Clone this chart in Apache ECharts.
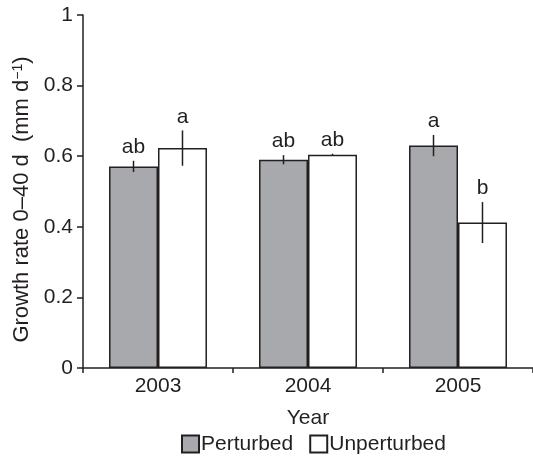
<!DOCTYPE html>
<html>
<head>
<meta charset="utf-8">
<script src="https://cdn.jsdelivr.net/npm/echarts@6/dist/echarts.min.js"></script>
<style>html,body{margin:0;padding:0;background:#fff;}#c{width:533px;height:456px;}</style>
</head>
<body>
<div id="c"></div>
<script>
const years = ['2003', '2004', '2005'];
const perturbed = [0.571, 0.590, 0.630];
const perturbedErr = [0.016, 0.013, 0.030];
const perturbedLetters = ['ab', 'ab', 'a'];
const unperturbed = [0.623, 0.604, 0.412];
const unperturbedErr = [0.050, 0.003, 0.058];
const unperturbedLetters = ['a', 'ab', 'b'];
const seriesNames = ['Perturbed', 'Unperturbed'];

const FONT = '"Liberation Sans", Arial, sans-serif';
const INK = '#231f20';
const GAP = 0.347;

function errSeries(values, errs, letters, side) {
  return {
    type: 'custom',
    z: 10,
    silent: true,
    data: values.map((v, i) => [i, v, errs[i]]),
    encode: { x: 0, y: 1 },
    renderItem: function (params, api) {
      const i = api.value(0), v = api.value(1), e = api.value(2);
      const band = api.size([1, 0])[0];
      const off = side * band * (1 - GAP) / 4;
      const top = api.coord([i, v + e]);
      const bot = api.coord([i, v - e]);
      const x = top[0] + off;
      return {
        type: 'group',
        children: [
          { type: 'line', shape: { x1: x, y1: top[1], x2: x, y2: bot[1] },
            style: { stroke: INK, lineWidth: 1.5 } },
          { type: 'text', x: x, y: top[1] - 3,
            style: { text: letters[params.dataIndex], align: 'center', verticalAlign: 'bottom',
                     fill: INK, font: '21px ' + FONT } }
        ]
      };
    }
  };
}

const chart = echarts.init(document.getElementById('c'), null, { renderer: 'canvas' });
chart.setOption({
  animation: false,
  backgroundColor: '#fff',
  textStyle: { fontFamily: FONT, color: INK },
  grid: { left: 83, right: 0, top: 15, bottom: 88, containLabel: false },
  legend: {
    data: seriesNames,
    left: 181, top: 433,
    padding: 0,
    itemWidth: 17, itemHeight: 17, itemGap: 16,
    icon: 'rect',
    textStyle: { fontSize: 21, lineHeight: 22, fontFamily: FONT, color: INK, padding: [0, 0, 0, -3] }
  },
  xAxis: {
    type: 'category',
    data: years,
    name: 'Year',
    nameLocation: 'middle',
    nameGap: 40,
    nameTextStyle: { fontSize: 21, fontFamily: FONT, color: INK },
    axisLine: { lineStyle: { color: INK, width: 1.5 } },
    axisTick: { show: true, length: 5, lineStyle: { color: INK, width: 1.5 } },
    axisLabel: { fontSize: 21, fontFamily: FONT, color: INK, margin: 8 },
    splitLine: { show: false }
  },
  yAxis: {
    type: 'value',
    min: 0, max: 1, interval: 0.2,
    name: 'Growth rate 0–40 d  (mm d{sup|−1})',
    nameLocation: 'middle',
    nameGap: 48,
    nameRotate: 90,
    nameTextStyle: {
      fontSize: 22, fontFamily: FONT, color: INK, padding: [0, 16, 0, 0],
      rich: { sup: { fontSize: 14, fontFamily: FONT, color: INK, verticalAlign: 'top', padding: [0, 0, 8, 0] } }
    },
    axisLine: { show: true, lineStyle: { color: INK, width: 1.5 } },
    axisTick: { show: true, length: 6, lineStyle: { color: INK, width: 1.5 } },
    axisLabel: { fontSize: 21, fontFamily: FONT, color: INK, margin: 10 },
    splitLine: { show: false }
  },
  series: [
    {
      name: seriesNames[0], type: 'bar', data: perturbed,
      barGap: '0%', barCategoryGap: (GAP * 100) + '%',
      itemStyle: { color: '#a8a9ac', borderColor: INK, borderWidth: 1.5 }
    },
    {
      name: seriesNames[1], type: 'bar', data: unperturbed,
      barGap: '0%', barCategoryGap: (GAP * 100) + '%',
      itemStyle: { color: '#ffffff', borderColor: INK, borderWidth: 1.5 }
    },
    errSeries(perturbed, perturbedErr, perturbedLetters, -1),
    errSeries(unperturbed, unperturbedErr, unperturbedLetters, 1)
  ]
});
</script>
</body>
</html>
